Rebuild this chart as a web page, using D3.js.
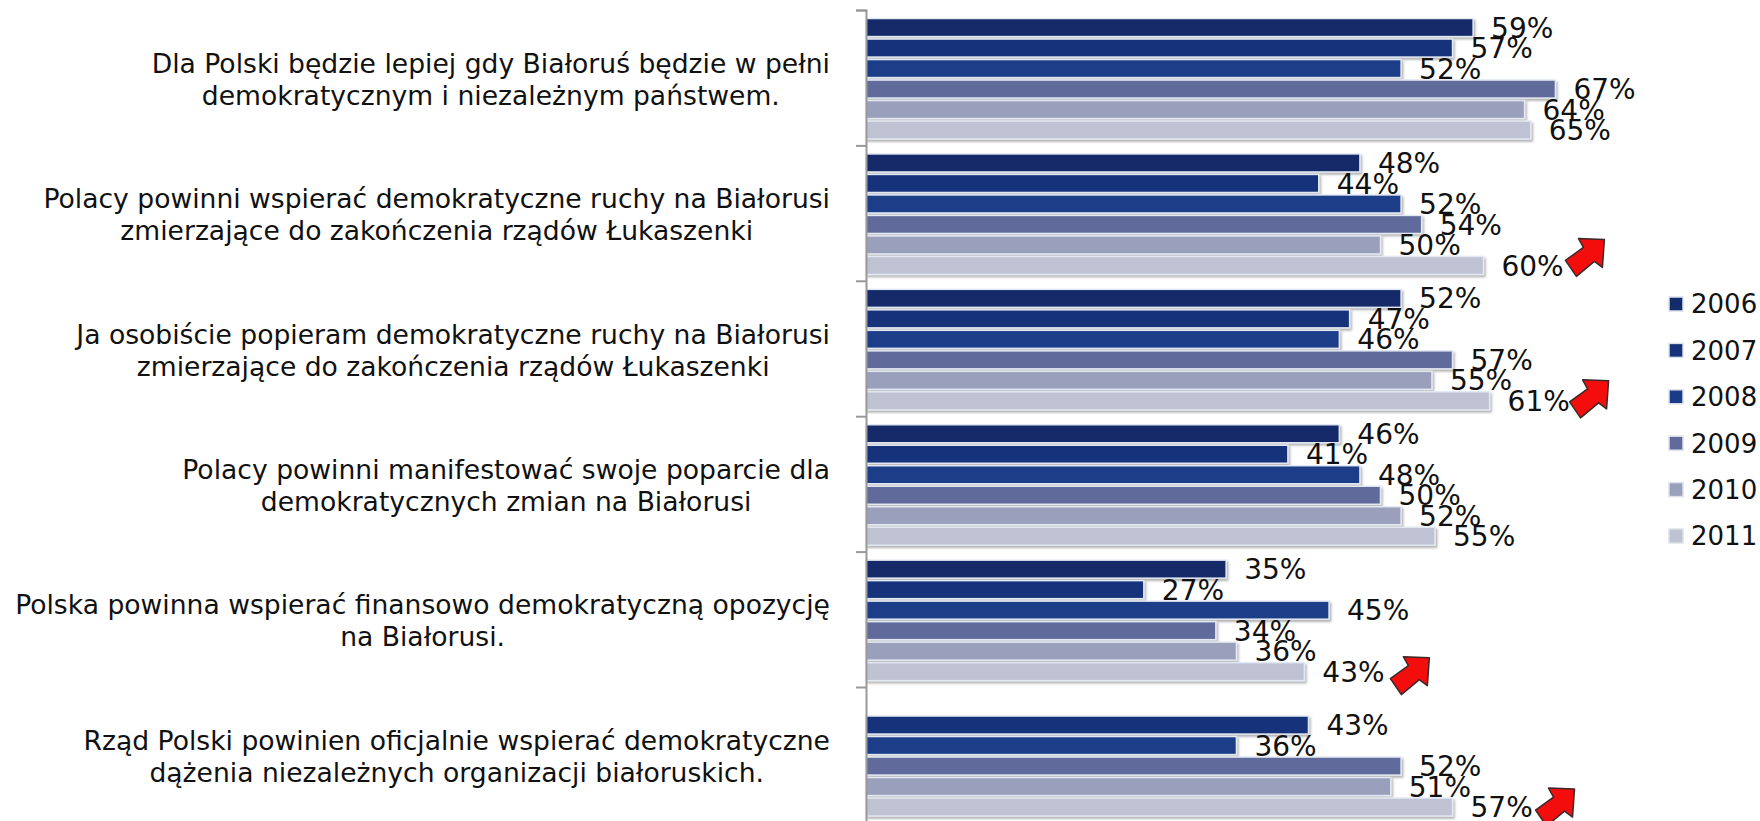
<!DOCTYPE html>
<html>
<head>
<meta charset="utf-8">
<script src="https://cdn.jsdelivr.net/npm/d3@7"></script>
<style>
  html, body { margin: 0; padding: 0; background: #fff; overflow: hidden; }
  text { font-family: "DejaVu Sans", sans-serif; fill: #111; }
</style>
</head>
<body>
<div id="container"></div>
<script>
/* DATA */
const years = ["2006", "2007", "2008", "2009", "2010", "2011"];
const categories = [
  ["Dla Polski będzie lepiej gdy Białoruś będzie w pełni", "demokratycznym i niezależnym państwem."],
  ["Polacy powinni wspierać demokratyczne ruchy na Białorusi", "zmierzające do zakończenia rządów Łukaszenki"],
  ["Ja osobiście popieram demokratyczne ruchy na Białorusi", "zmierzające do zakończenia rządów Łukaszenki"],
  ["Polacy powinni manifestować swoje poparcie dla", "demokratycznych zmian na Białorusi"],
  ["Polska powinna wspierać finansowo demokratyczną opozycję", "na Białorusi."],
  ["Rząd Polski powinien oficjalnie wspierać demokratyczne", "dążenia niezależnych organizacji białoruskich."]
];
// bar lengths, labels show them rounded
const values2006 = [59, 48, 52, 46, 35, null];
const values2007 = [57, 44, 47, 41, 27, 43];
const values2008 = [52, 52, 46, 48, 45, 36];
const values2009 = [67, 54, 57, 50, 34, 52];
const values2010 = [64, 50, 55, 52, 36, 51];
const values2011 = [64.6, 60, 60.6, 55.3, 42.6, 57];
const seriesValues = [values2006, values2007, values2008, values2009, values2010, values2011];
const colors = ["#122c6b", "#15327a", "#1a3c88", "#606b9b", "#9a9fbb", "#bfc2d2"];
// categories that got a red "up" arrow next to the 2011 value
const arrowGroups = [1, 2, 4, 5];
const arrowNudge = { 1: [102, -8], 2: [100, -2], 4: [106, 4], 5: [103, 0] };

/* CONSTANTS AND GLOBALS */
const width = 1760, height = 821;
const axisX = 866, labelRight = 830;

const svg = d3.select("#container").append("svg")
  .attr("width", width)
  .attr("height", height)
  .style("display", "block");

const defs = svg.append("defs");
const shadow = defs.append("filter").attr("id", "shadow")
  .attr("x", "-5%").attr("y", "-30%").attr("width", "110%").attr("height", "170%");
shadow.append("feDropShadow")
  .attr("dx", 1.5).attr("dy", 2).attr("stdDeviation", 1.3)
  .attr("flood-color", "#555").attr("flood-opacity", 0.45);

/* SCALES */
const xScale = d3.scaleLinear().domain([0, 100]).range([axisX, axisX + 1029]);
const groupScale = d3.scaleLinear().domain([0, 6]).range([10, 822.4]);
const slotScale = d3.scaleBand().domain(years)
  .range([1.1, 136.5]).paddingInner(0.12).paddingOuter(0.3625);
const colorScale = d3.scaleOrdinal().domain(years).range(colors);
const legendScale = d3.scalePoint().domain(years).range([304, 536]);

const rows = years.flatMap((year, s) =>
  seriesValues[s].map((value, g) => ({ year, g, value }))
).filter(d => d.value !== null);

/* BARS */
rows.sort((a, b) => a.g - b.g || years.indexOf(a.year) - years.indexOf(b.year));
svg.append("g").selectAll("rect")
  .data(rows)
  .join("rect")
  .attr("x", xScale(0))
  .attr("y", d => groupScale(d.g) + slotScale(d.year))
  .attr("width", d => xScale(d.value) - xScale(0))
  .attr("height", slotScale.bandwidth())
  .attr("fill", d => colorScale(d.year))
  .attr("stroke", "#e3e9f3")
  .attr("stroke-width", 1.5)
  .attr("filter", "url(#shadow)");

/* AXIS */
const axis = svg.append("g")
  .attr("transform", `translate(${axisX},0)`)
  .call(d3.axisLeft(groupScale).tickValues(d3.range(0, 7)).tickSize(10).tickFormat(""));
axis.selectAll("path, line").attr("stroke", "#999").attr("stroke-width", 2);

/* VALUE LABELS */
svg.append("g").selectAll("text")
  .data(rows)
  .join("text")
  .attr("x", d => xScale(d.value) + 18)
  .attr("y", d => groupScale(d.g) + slotScale(d.year) + slotScale.bandwidth() / 2)
  .attr("dy", "0.36em")
  .attr("font-size", 28)
  .text(d => Math.round(d.value) + "%");

/* CATEGORY LABELS */
const squeeze = 0.985;
const catGroups = svg.append("g").selectAll("g")
  .data(categories)
  .join("g")
  .attr("transform", (d, i) => `translate(0,${groupScale(i) + 69})`);

catGroups.each(function (lines) {
  const g = d3.select(this);
  const texts = g.selectAll("text").data(lines).join("text")
    .attr("font-size", 27)
    .attr("y", (d, i) => (i - 0.5) * 32)
    .attr("dy", "0.36em")
    .text(d => d);
  const lens = texts.nodes().map(n => n.getComputedTextLength() * squeeze);
  const boxWidth = d3.max(lens);
  texts
    .attr("textLength", (d, i) => lens[i])
    .attr("lengthAdjust", "spacingAndGlyphs")
    .attr("text-anchor", "middle")
    .attr("x", labelRight - boxWidth / 2);
});

/* ARROWS */
const arrowPath = "M19,-18 L-7,-19 L-2,-10 L-20,3 L-9,19 L9,4 L17,10 Z";
svg.append("g").selectAll("path")
  .data(arrowGroups)
  .join("path")
  .attr("d", arrowPath)
  .attr("fill", "#f40d0d")
  .attr("stroke", "#3a2a2a")
  .attr("stroke-width", 1.5)
  .attr("stroke-linejoin", "round")
  .attr("transform", g => {
    const [dx, dy] = arrowNudge[g];
    const x = xScale(values2011[g]) + dx;
    const y = groupScale(g) + slotScale("2011") + slotScale.bandwidth() / 2 + dy;
    return `translate(${x},${y})`;
  });

/* LEGEND */
const legend = svg.append("g").selectAll("g")
  .data(years)
  .join("g")
  .attr("transform", d => `translate(1668,${legendScale(d)})`);
legend.append("rect")
  .attr("x", 1).attr("y", -7).attr("width", 14).attr("height", 14)
  .attr("fill", d => colorScale(d))
  .attr("stroke", "#dde1ea").attr("stroke-width", 1.5);
legend.append("text")
  .attr("x", 23).attr("dy", "0.36em")
  .attr("font-size", 26)
  .text(d => d);
</script>
</body>
</html>
